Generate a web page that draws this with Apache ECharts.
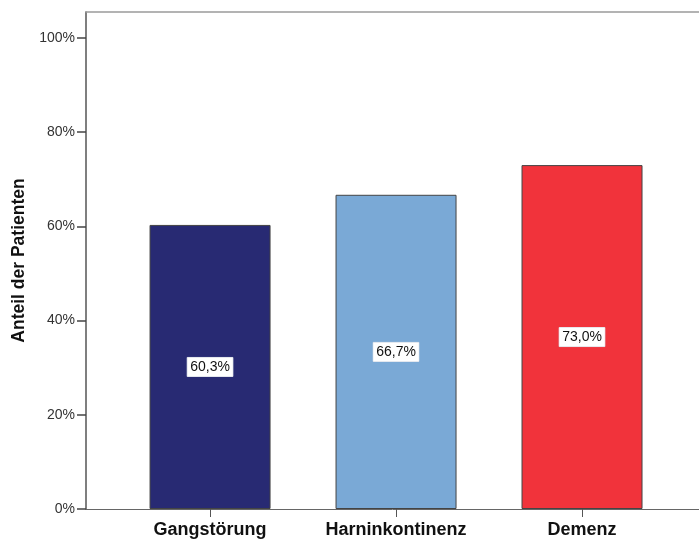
<!DOCTYPE html>
<html>
<head>
<meta charset="utf-8">
<script src="https://cdn.jsdelivr.net/npm/echarts@6/dist/echarts.min.js"></script>
<style>
  html, body { margin: 0; padding: 0; background: #fff; }
  #chart { width: 699px; height: 539px; }
</style>
</head>
<body>
<div id="chart"></div>
<script>
// Anteil der Patienten je Symptom
const categories = ['Gangstörung', 'Harninkontinenz', 'Demenz'];
const shares = [60.3, 66.7, 73.0];
const yTicks = [0, 20, 40, 60, 80, 100];

const barColors = ['#282a73', '#7aa9d6', '#f1333b'];
const positions = categories.map((_, i) => i);

// horizontal extent of the category scale (plot continues past the right edge)
const xMin = -0.667;
const xMax = 2.629;

const fmtPct = v => v.toFixed(1).replace('.', ',') + '%';
const font = 'Liberation Sans, Arial, sans-serif';

const chart = echarts.init(document.getElementById('chart'), null, { renderer: 'canvas' });
chart.setOption({
  animation: false,
  backgroundColor: '#ffffff',
  textStyle: { fontFamily: font },
  grid: { left: 86, right: 0, top: 12, bottom: 29, show: false },
  xAxis: [{
    type: 'value',
    min: xMin, max: xMax,
    splitLine: { show: false },
    axisLine: { show: true, onZero: false, lineStyle: { color: '#666', width: 1 } },
    axisTick: { show: true, customValues: positions, length: 8, lineStyle: { color: '#555' } },
    axisLabel: {
      customValues: positions,
      formatter: v => categories[Math.round(v)] || '',
      margin: 12,
      fontSize: 18, fontWeight: 'bold', color: '#111',
      fontFamily: font
    }
  }, {
    // top frame line
    type: 'value',
    position: 'top',
    min: xMin, max: xMax,
    splitLine: { show: false },
    axisLine: { show: true, onZero: false, lineStyle: { color: '#9a9a9a', width: 1.5 } },
    axisTick: { show: false },
    axisLabel: { show: false }
  }],
  yAxis: {
    type: 'value',
    min: 0, max: 105.5,
    name: 'Anteil der Patienten',
    nameLocation: 'middle',
    nameGap: 58,
    nameTextStyle: { fontSize: 17.5, fontWeight: 'bold', color: '#111', fontFamily: font },
    splitLine: { show: false },
    axisLine: { show: true, onZero: false, lineStyle: { color: '#555', width: 1.5 } },
    axisTick: { show: true, customValues: yTicks, length: 9, lineStyle: { color: '#444', width: 1.5 } },
    axisLabel: {
      customValues: yTicks,
      formatter: v => v + '%',
      margin: 11,
      fontSize: 14, color: '#333',
      fontFamily: font
    }
  },
  series: [{
    type: 'bar',
    xAxisIndex: 0,
    barWidth: 121,
    data: shares.map((v, i) => ({
      value: [positions[i], v],
      itemStyle: { color: barColors[i] }
    })),
    itemStyle: { borderColor: '#444', borderWidth: 1 },
    label: {
      show: true,
      position: 'inside',
      formatter: p => fmtPct(p.value[1]),
      backgroundColor: '#ffffff',
      borderColor: '#cfd6e0',
      borderWidth: 0.5,
      padding: [3, 3, 2, 3],
      fontSize: 14,
      color: '#111',
      fontFamily: font
    }
  }]
});
</script>
</body>
</html>
